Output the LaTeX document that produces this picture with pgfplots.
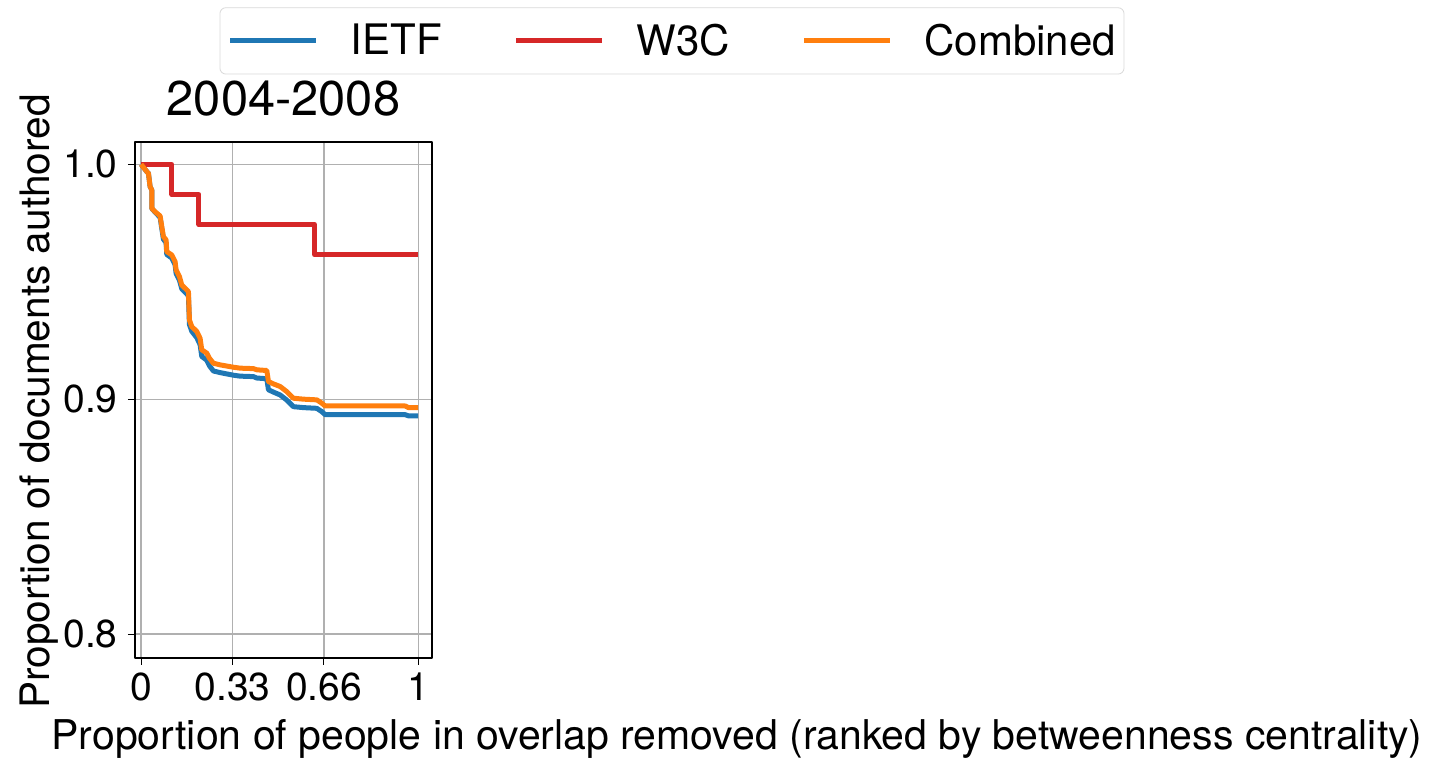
\documentclass[border=0pt]{standalone}
\usepackage{fontspec}
\setmainfont{TeX Gyre Heros}
\usepackage{pgfplots}
\pgfplotsset{compat=1.18}
\definecolor{ietf}{HTML}{1F77B4}
\definecolor{wthreec}{HTML}{D62728}
\definecolor{comb}{HTML}{FF7F0E}
\definecolor{gridc}{HTML}{B0B0B0}

\begin{document}
\begin{tikzpicture}
  \useasboundingbox (0,0) rectangle (716pt,381.5pt);
  \begin{axis}[
    at={(67.5pt,52.5pt)}, anchor=south west,
    scale only axis, width=148.5pt, height=258pt,
    xmin=-0.022, xmax=1.05, ymin=0.7898, ymax=1.0095,
    xtick={0,0.33,0.66,1}, xticklabels={0,0.33,0.66,1},
    ytick={0.8,0.9,1.0}, yticklabels={0.8,0.9,1.0},
    tick pos=left, tick align=outside, major tick length=3.5pt,
    every tick/.style={black, line width=0.5pt},
    axis line style={line width=0.8pt},
    grid=major, grid style={gridc, line width=0.6pt},
    xticklabel style={font=\fontsize{19.5}{22}\selectfont, inner sep=0pt, anchor=north, yshift=-3.5pt},
    yticklabel style={font=\fontsize{19.5}{22}\selectfont, inner sep=0pt, anchor=east, xshift=-5pt},
    title={2004-2008},
    title style={font=\fontsize{24.4}{28}\selectfont, inner sep=0pt, at={(axis description cs:0.5,1.0271)}, anchor=base},
    xlabel={Proportion of people in overlap removed (ranked by betweenness centrality)},
    xlabel style={font=\fontsize{20.5}{24}\selectfont, inner sep=0pt, at={(axis description cs:2.027,-0.1783)}, anchor=base},
    ylabel={Proportion of documents authored},
    ylabel style={font=\fontsize{20.3}{24}\selectfont, inner sep=0pt, at={(axis description cs:-0.2862,0.497)}, anchor=base, rotate=0},
    legend columns=3,
    legend style={at={(axis description cs:1.808,1.261)}, anchor=north,
      font=\fontsize{21}{24}\selectfont, draw=black!15, rounded corners=3pt,
      inner xsep=4pt, inner ysep=8pt,
      nodes={inner sep=0pt},
      /tikz/every odd column/.append style={column sep=16pt},
      /tikz/every even column/.append style={column sep=36pt}},
    legend image code/.code={\draw[#1, line width=2.4pt] (0pt,0pt) -- (43pt,0pt);},
    line join=round,
  ]
    \addplot[ietf, line width=2.5pt] coordinates {
      (0,1.0) (0.0205,0.9969) (0.0265,0.9962) (0.0325,0.9905) (0.0385,0.9891)
      (0.0385,0.9812) (0.0505,0.9796) (0.0686,0.9774) (0.0806,0.9681) (0.0903,0.9666)
      (0.0927,0.9616) (0.1107,0.9601) (0.1227,0.9572) (0.1264,0.9535) (0.1384,0.9507)
      (0.1468,0.9470) (0.1588,0.9456) (0.1709,0.9440) (0.1745,0.9318) (0.1829,0.9289)
      (0.201,0.9262) (0.213,0.9232) (0.219,0.9182) (0.237,0.9166) (0.2467,0.9142)
      (0.2611,0.9120) (0.2852,0.9113) (0.3333,0.9102) (0.3574,0.9098) (0.4055,0.9096)
      (0.4176,0.9090) (0.4537,0.9087) (0.4597,0.9040) (0.4777,0.9030) (0.5018,0.9018)
      (0.5259,0.8996) (0.5379,0.8982) (0.5499,0.8968) (0.586,0.8964) (0.6342,0.8961)
      (0.6522,0.8947) (0.6643,0.8934) (0.953,0.8934) (0.9651,0.8929) (1.0,0.8929)};
    \addlegendentry{IETF}
    \addplot[wthreec, line width=2.5pt] coordinates {
      (0,1) (0.111,1) (0.111,0.9872) (0.209,0.9872) (0.209,0.9744)
      (0.626,0.9744) (0.626,0.9615) (1,0.9615)};
    \addlegendentry{W3C}
    \addplot[comb, line width=2.5pt] coordinates {
      (0,1.0) (0.0205,0.9969) (0.0265,0.9962) (0.0325,0.9905) (0.0385,0.9891)
      (0.0385,0.9813) (0.0505,0.9798) (0.0686,0.978) (0.0806,0.9692) (0.0903,0.9678)
      (0.0927,0.9628) (0.1107,0.9614) (0.1227,0.9586) (0.1264,0.955) (0.1384,0.9522)
      (0.1468,0.9486) (0.1588,0.9472) (0.1709,0.9458) (0.1745,0.9337) (0.1829,0.9309)
      (0.201,0.9288) (0.213,0.9259) (0.219,0.921) (0.237,0.9196) (0.2467,0.9174)
      (0.2611,0.9153) (0.2852,0.9146) (0.3333,0.9136) (0.3574,0.9132) (0.4055,0.913)
      (0.4176,0.9125) (0.4537,0.9122) (0.4597,0.9075) (0.4777,0.9065) (0.5018,0.9054)
      (0.5259,0.9032) (0.5379,0.9018) (0.5499,0.9004) (0.586,0.9) (0.6342,0.8997)
      (0.6522,0.8983) (0.6643,0.8971) (0.953,0.8971) (0.9651,0.8964) (1.0,0.8964)};
    \addlegendentry{Combined}
  \end{axis}
\end{tikzpicture}
\end{document}
